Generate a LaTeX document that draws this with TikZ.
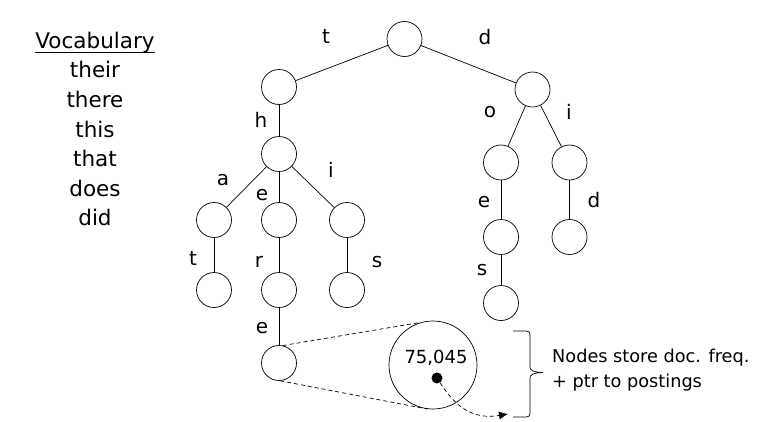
\documentclass[tikz,border=0pt]{standalone}
\usepackage{fontspec}
\setmainfont{DejaVu Sans}
\usetikzlibrary{arrows.meta,calc}
\begin{document}
\begin{tikzpicture}[x=1pt,y=-1pt,
  trie/.style={circle,draw,line width=0.7pt,minimum size=35pt,inner sep=0pt},
  branch/.style={line width=0.7pt},
  lbl/.style={anchor=base,inner sep=0pt,font=\fontsize{20}{24}\selectfont},
  vocab/.style={anchor=base,inner sep=0pt,font=\fontsize{21.5}{25}\selectfont},
  guide/.style={line width=0.7pt,dash pattern=on 4pt off 3pt},
  note/.style={anchor=base west,inner sep=0pt,font=\fontsize{17.7}{21}\selectfont}]
\fill[white] (0,0) rectangle (758,421);
\useasboundingbox (0,0) rectangle (758,421);

% vocabulary list
\node[vocab] (vh) at (95,48.3) {Vocabulary};
\draw[line width=0.9pt] ($(vh.base west)+(0,4.5)$) -- ($(vh.base east)+(0,4.5)$);
\node[vocab] (w1) at (95,77.9) {their};
\node[vocab] (w2) at (95,107.5) {there};
\node[vocab] (w3) at (95,137.1) {this};
\node[vocab] (w4) at (95,166.7) {that};
\node[vocab] (w5) at (95,196.3) {does};
\node[vocab] (w6) at (95,225.9) {did};

% trie nodes
\node[trie] (root) at (404.5,39) {};
\node[trie] (t1) at (279,87) {};
\node[trie] (d1) at (532.5,89.5) {};
\node[trie] (th) at (279,154) {};
\node[trie] (dO) at (501,162.5) {};
\node[trie] (dI) at (569.5,162.5) {};
\node[trie] (tha) at (214,220) {};
\node[trie] (the) at (279,220) {};
\node[trie] (thi) at (347,220) {};
\node[trie] (that) at (214,290) {};
\node[trie] (ther) at (279,290) {};
\node[trie] (this) at (347,290) {};
\node[trie] (there) at (279,363) {};
\node[trie] (doe) at (501,237) {};
\node[trie] (dos) at (501,303) {};
\node[trie] (did) at (569.5,237) {};

% branches
\draw[branch] (root) -- (t1);
\draw[branch] (root) -- (d1);
\draw[branch] (t1) -- (th);
\draw[branch] (th) -- (tha);
\draw[branch] (th) -- (the);
\draw[branch] (th) -- (thi);
\draw[branch] (tha) -- (that);
\draw[branch] (the) -- (ther);
\draw[branch] (thi) -- (this);
\draw[branch] (ther) -- (there);
\draw[branch] (d1) -- (dO);
\draw[branch] (d1) -- (dI);
\draw[branch] (dO) -- (doe);
\draw[branch] (doe) -- (dos);
\draw[branch] (dI) -- (did);

% branch letters
\node[lbl] (lt) at (326,43) {t};
\node[lbl] (ld) at (485,44) {d};
\node[lbl] (lh) at (261,127) {h};
\node[lbl] (lo) at (490,117) {o};
\node[lbl] (li2) at (569,119) {i};
\node[lbl] (la) at (223,185) {a};
\node[lbl] (le) at (262,200) {e};
\node[lbl] (li) at (331,177) {i};
\node[lbl] (lt2) at (193,265) {t};
\node[lbl] (lr) at (259,267) {r};
\node[lbl] (ls) at (377,267) {s};
\node[lbl] (le2) at (262,333) {e};
\node[lbl] (le3) at (484,207) {e};
\node[lbl] (ld2) at (594,207) {d};
\node[lbl] (ls2) at (482,275) {s};

% magnified node
\node[circle,draw,line width=0.7pt,minimum size=88pt,inner sep=0pt] (zoomed) at (433,365) {};
\node[anchor=base,inner sep=0pt,font=\fontsize{18}{21}\selectfont] (freq) at (436,363.5) {75,045};
\node[circle,fill,minimum size=11pt,inner sep=0pt] (ptr) at (437,378) {};
\coordinate (ptrend) at (508,414);
\draw[guide] (there.78) -- (zoomed.106);
\draw[guide] (there.-86) -- (zoomed.-98);
\draw[guide,-{Latex[length=9pt,width=8pt]}] (ptr) .. controls (455,406) and (472,420) .. (ptrend);

% brace and note
\draw[line width=0.7pt] (513,331) -- (526,331) .. controls (529,331) and (530,332) .. (530,335)
  -- (530,367) .. controls (530,370) and (532,372) .. (543,372.5)
  .. controls (532,373) and (530,375) .. (530,378) -- (530,413)
  .. controls (530,416) and (529,417) .. (526,417) -- (513,417);
\node[note] (n1) at (552,362) {Nodes store doc. freq.};
\node[note] (n2) at (552,387) {+ ptr to postings};
\end{tikzpicture}
\end{document}
